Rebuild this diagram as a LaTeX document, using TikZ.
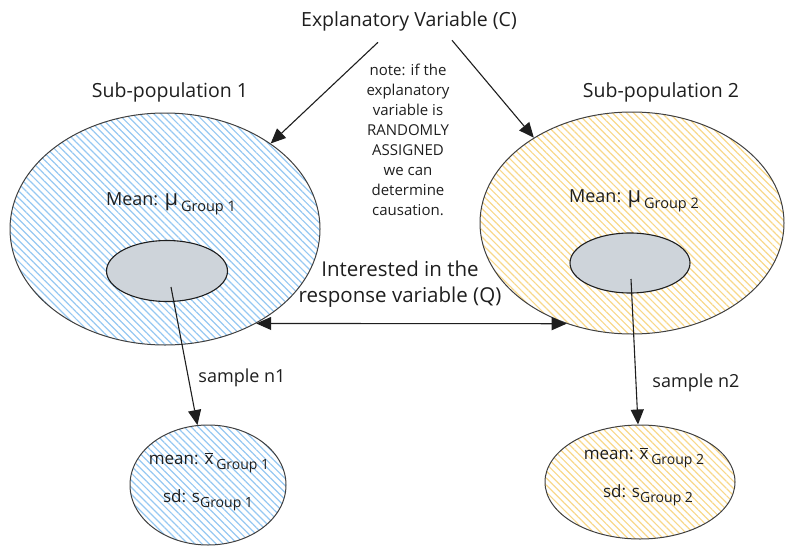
\documentclass[tikz,border=0pt]{standalone}
\usepackage{fontspec}
\setmainfont{Open Sans}
\usepackage{tikz}
\usetikzlibrary{arrows.meta, positioning, shapes.geometric, patterns.meta}
\definecolor{hatchblue}{HTML}{96C8F2}
\definecolor{hatchyellow}{HTML}{F8D88A}
\definecolor{coregray}{HTML}{CED4DA}
\definecolor{inkline}{HTML}{1E1E1E}
\newcommand{\xbar}{$\overline{\mbox{x}}$}

\begin{document}
\begin{tikzpicture}[x=1pt, y=-1pt, >={Triangle[length=15pt,width=13pt]},
    every node/.style={text=inkline}]
    % node styles: hatched ellipses, gray core, plain labels
    \tikzset{
        popnode/.style={ellipse, draw=inkline!85, line width=1pt, inner sep=0pt},
        bluehatch/.style={pattern={Lines[angle=-45,distance=5pt,line width=1.2pt]}, pattern color=hatchblue},
        yellowhatch/.style={pattern={Lines[angle=-45,distance=5pt,line width=1.2pt]}, pattern color=hatchyellow},
        coreblob/.style={ellipse, draw=inkline, fill=coregray, line width=1.1pt, inner sep=0pt,
            minimum width=121pt, minimum height=61pt},
        lab/.style={font=\fontsize{19.5}{22}\selectfont},
        midlab/.style={font=\fontsize{18}{20}\selectfont},
        smalllab/.style={font=\fontsize{17}{18}\selectfont},
        notelab/.style={font=\fontsize{15}{20}\selectfont, align=center},
        link/.style={->, line width=1.1pt, draw=inkline}
    }
    \useasboundingbox (0,0) rectangle (792,554);
    % populations
    \node[popnode, bluehatch, minimum width=310pt, minimum height=232pt] (pop1) at (165,229) {};
    \node[popnode, yellowhatch, minimum width=304pt, minimum height=222pt] (pop2) at (632,223) {};
    \node[coreblob] (core1) at (167,271) {};
    \node[coreblob, minimum width=120pt, minimum height=60pt] (core2) at (630,263) {};
    % samples
    \node[popnode, bluehatch, minimum width=156pt, minimum height=120pt] (samp1) at (208,485) {};
    \node[popnode, yellowhatch, minimum width=190pt, minimum height=114pt] (samp2) at (640,482) {};
    % labels
    \node[lab] (expl) at (409,21) {Explanatory Variable (C)};
    \node[lab] (sub1) at (170,92) {Sub-population 1};
    \node[lab] (sub2) at (661,92) {Sub-population 2};
    \node[notelab] (note) at (408,140) {note: if the\\explanatory\\variable is\\RANDOMLY\\ASSIGNED\\we can\\determine\\causation.};
    \node[midlab] (mean1) at (171,204) {Mean: {\fontsize{22}{22}\selectfont μ}\,\raisebox{-0.6ex}{\fontsize{14.5}{15}\selectfont Group 1}};
    \node[midlab] (mean2) at (634,201) {Mean: {\fontsize{22}{22}\selectfont μ}\,\raisebox{-0.6ex}{\fontsize{14.5}{15}\selectfont Group 2}};
    \node[align=center, font=\fontsize{20.5}{26}\selectfont] (resp) at (400,284) {Interested in the\\response variable (Q)};
    \node[midlab] (n1) at (242,378) {sample n1};
    \node[midlab] (n2) at (696,383) {sample n2};
    \node[smalllab] (m1) at (209,463) {mean: \xbar\,\raisebox{-0.6ex}{\fontsize{14}{14}\selectfont Group 1}};
    \node[smalllab] (s1) at (208,500) {sd: s\raisebox{-0.6ex}{\fontsize{14}{14}\selectfont Group 1}};
    \node[smalllab] (m2) at (644,458) {mean: \xbar\,\raisebox{-0.6ex}{\fontsize{14}{14}\selectfont Group 2}};
    \node[smalllab] (s2) at (648,495) {sd: s\raisebox{-0.6ex}{\fontsize{14}{14}\selectfont Group 2}};
    % arrow ends below the title
    \coordinate (srcL) at ([xshift=-31pt, yshift=-8pt]expl.south);
    \coordinate (srcR) at ([xshift=43pt, yshift=-6pt]expl.south);
    \coordinate (from1) at ([xshift=4pt, yshift=-16pt]core1.center);
    \coordinate (from2) at ([xshift=1pt, yshift=-16pt]core2.center);
    % connectors
    \draw[link] (srcL) -- (pop1.39);
    \draw[link] (srcR) -- (pop2.139);
    \draw[link, <->] (pop1.-46) -- (pop2.-123);
    \draw[link] (from1) -- (samp1.100);
    \draw[link] (from2) -- (samp2.92);
\end{tikzpicture}
\end{document}
